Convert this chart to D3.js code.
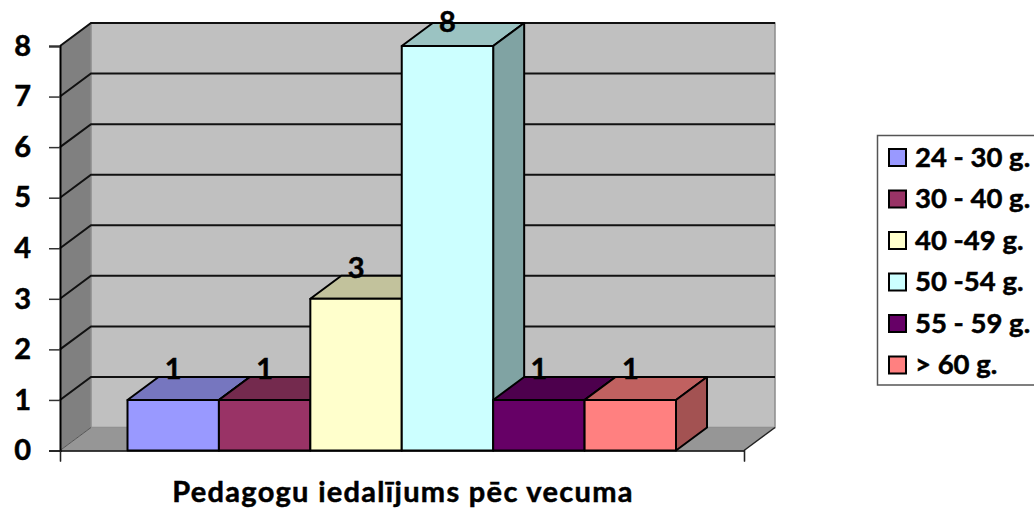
<!DOCTYPE html>
<html>
<head>
<meta charset="utf-8">
<script src="https://cdn.jsdelivr.net/npm/d3@7"></script>
<style>
  html, body { margin: 0; padding: 0; background: #fff; overflow: hidden; }
  text { font-family: Lato, "Open Sans", sans-serif; font-weight: 700; fill: #000; stroke: #000; stroke-width: 0.5px; }
</style>
</head>
<body>
<div id="chart"></div>
<script>
// chart values
const categories = ["24 - 30 g.", "30 - 40 g.", "40 -49 g.", "50 -54 g.", "55 - 59 g.", "> 60 g."];
const values = [1, 1, 3, 8, 1, 1];
const yTicks = [0, 1, 2, 3, 4, 5, 6, 7, 8];
const frontColors = ["#9999ff", "#993366", "#ffffcc", "#ccffff", "#660066", "#ff8080"];
const topColors = ["#7676bf", "#742a4e", "#c2c29c", "#9bc3c2", "#4d004d", "#c06160"];
const sideColors = ["#6464a3", "#632343", "#a3a385", "#80a3a3", "#420042", "#a35252"];
const chartTitle = "Pedagogu iedalījums pēc vecuma";

const width = 1034;
const height = 510;

// front plane of the 3d box, and how far back the wall sits
const plotLeft = 60, plotRight = 744, plotBottom = 450.5, plotTop = 46;
const depthX = 31, depthY = -23;

const svg = d3.select("#chart").append("svg")
    .attr("width", width)
    .attr("height", height);

const y = d3.scaleLinear().domain([0, 8]).range([plotBottom, plotTop]);
const x = d3.scaleBand().domain(categories).range([127.5, 676]).padding(0);
const frame = d3.scaleLinear().domain([0, 1]).range([plotLeft, plotRight]);

const line = d3.line();
const poly = pts => line(pts) + "Z";

// walls and floor
svg.append("path")
    .attr("d", poly([[plotLeft, y(0)], [plotLeft + depthX, y(0) + depthY], [plotLeft + depthX, y(8) + depthY], [plotLeft, y(8)]]))
    .attr("fill", "#808080");
svg.append("path")
    .attr("d", poly([[plotLeft + depthX, y(0) + depthY], [plotRight + depthX, y(0) + depthY], [plotRight + depthX, y(8) + depthY], [plotLeft + depthX, y(8) + depthY]]))
    .attr("fill", "#c0c0c0")
    .attr("stroke", "#8c8c8c")
    .attr("stroke-width", 1.5);
svg.append("path")
    .attr("d", poly([[plotLeft, y(0)], [plotRight, y(0)], [plotRight + depthX, y(0) + depthY], [plotLeft + depthX, y(0) + depthY]]))
    .attr("fill", "#969696");

// gridlines run along the side wall and across the back wall
svg.append("g").selectAll("path")
    .data(yTicks.filter(d => d > 0))
    .enter()
    .append("path")
    .attr("d", d => line([[plotLeft, y(d)], [plotLeft + depthX, y(d) + depthY], [plotRight + depthX, y(d) + depthY]]))
    .attr("fill", "none")
    .attr("stroke", "#111")
    .attr("stroke-width", 2);

// floor edges
svg.append("path")
    .attr("d", line([[plotLeft, y(0)], [plotLeft + depthX, y(0) + depthY]]))
    .attr("fill", "none")
    .attr("stroke", "#555")
    .attr("stroke-width", 1);
svg.append("path")
    .attr("d", line([[plotRight, y(0)], [plotRight + depthX, y(0) + depthY]]))
    .attr("fill", "none")
    .attr("stroke", "#222")
    .attr("stroke-width", 1.5);

// bars
const bars = svg.append("g").selectAll("g")
    .data(categories)
    .enter()
    .append("g")
    .attr("stroke", "#000")
    .attr("stroke-width", 2)
    .attr("stroke-linejoin", "round");

bars.append("path")
    .attr("d", (d, i) => {
        const x0 = x(d), x1 = x0 + x.bandwidth(), yv = y(values[i]);
        return poly([[x0, yv], [x1, yv], [x1 + depthX, yv + depthY], [x0 + depthX, yv + depthY]]);
    })
    .attr("fill", (d, i) => topColors[i]);

bars.append("path")
    .attr("d", (d, i) => {
        const x1 = x(d) + x.bandwidth(), yv = y(values[i]);
        return poly([[x1, y(0)], [x1 + depthX, y(0) + depthY], [x1 + depthX, yv + depthY], [x1, yv]]);
    })
    .attr("fill", (d, i) => sideColors[i]);

bars.append("rect")
    .attr("x", d => x(d))
    .attr("y", (d, i) => y(values[i]))
    .attr("width", x.bandwidth())
    .attr("height", (d, i) => y(0) - y(values[i]))
    .attr("fill", (d, i) => frontColors[i]);

// value labels, the tallest one is pushed down to stay on the page
svg.append("g").selectAll("text")
    .data(categories)
    .enter()
    .append("text")
    .attr("x", d => x(d) + x.bandwidth() / 2)
    .attr("y", (d, i) => Math.max(y(values[i]) - 21, 32))
    .attr("text-anchor", "middle")
    .style("font-size", "29px")
    .text((d, i) => values[i]);

// y axis
const yAxis = svg.append("g")
    .attr("transform", `translate(${plotLeft},0)`)
    .call(d3.axisLeft(y).tickValues(yTicks).tickSize(11).tickPadding(18).tickFormat(d3.format("d")));
yAxis.select(".domain").attr("stroke", "#000").attr("stroke-width", 2);
yAxis.selectAll(".tick line").attr("stroke", "#333").attr("stroke-width", 1.5);
yAxis.selectAll("text").style("font-size", "29px").style("font-family", "Lato").attr("fill", "#000");

// x axis, only the two end ticks
const xAxis = svg.append("g")
    .attr("transform", `translate(0,${plotBottom})`)
    .call(d3.axisBottom(frame).tickValues([0, 1]).tickSize(11).tickFormat(""));
xAxis.select(".domain").attr("stroke", "#000").attr("stroke-width", 1.5);
xAxis.selectAll(".tick line").attr("stroke", "#222");

svg.append("text")
    .attr("x", 403)
    .attr("y", 502)
    .attr("text-anchor", "middle")
    .style("font-size", "29px")
    .style("letter-spacing", "1.3px")
    .text(chartTitle);

// legend, its right edge runs off the page
svg.append("rect")
    .attr("x", 877.5)
    .attr("y", 135.5)
    .attr("width", 170)
    .attr("height", 249.5)
    .attr("fill", "#fff")
    .attr("stroke", "#555")
    .attr("stroke-width", 1.5);

const legendY = d3.scalePoint().domain(categories).range([157.5, 365]);
const legend = svg.append("g").selectAll("g")
    .data(categories)
    .enter()
    .append("g")
    .attr("transform", d => `translate(889,${legendY(d)})`);

legend.append("rect")
    .attr("y", -8.5)
    .attr("width", 17)
    .attr("height", 17)
    .attr("fill", (d, i) => frontColors[i])
    .attr("stroke", "#000")
    .attr("stroke-width", 2);

legend.append("text")
    .attr("x", 26)
    .attr("y", 9)
    .style("font-size", "27.5px")
    .text(d => d);
</script>
</body>
</html>
